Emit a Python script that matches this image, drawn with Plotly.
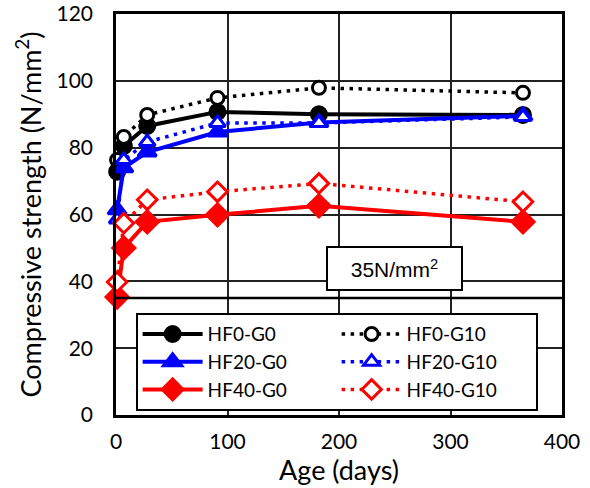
import plotly.graph_objects as go

# Curing age (days)
age = [1, 7, 28, 91, 182, 365]

# Compressive strength (N/mm2) per mix
hf0_g0 = [72.8, 80.5, 86.5, 90.7, 90.0, 89.8]
hf0_g10 = [76.3, 83.2, 89.8, 94.9, 97.9, 96.4]
hf20_g0 = [61.4, 74.0, 78.7, 84.7, 87.5, 89.5]
hf20_g10 = [58.5, 76.3, 81.7, 87.4, 87.4, 89.2]
hf40_g0 = [35.3, 50.0, 57.8, 59.9, 62.6, 57.8]
hf40_g10 = [39.8, 57.4, 64.4, 66.8, 69.3, 63.8]

design_strength = 35

DOTTED = "3.5px,5.5px"

# name, values, colour, dash, symbol, size, hollow
series = [
    ("HF0-G0", hf0_g0, "black", "solid", "circle", 15, False),
    ("HF0-G10", hf0_g10, "black", DOTTED, "circle", 13, True),
    ("HF20-G0", hf20_g0, "#0000ff", "solid", "triangle-up", 16, False),
    ("HF20-G10", hf20_g10, "#0000ff", DOTTED, "triangle-up", 14, True),
    ("HF40-G0", hf40_g0, "#ff0000", "solid", "diamond", 17, False),
    ("HF40-G10", hf40_g10, "#ff0000", DOTTED, "diamond", 15, True),
]

fig = go.Figure()
for name, vals, color, dash, symbol, size, hollow in series:
    fig.add_trace(go.Scatter(
        x=age, y=vals, name=name, mode="lines+markers", cliponaxis=False,
        line=dict(color=color, width=4 if dash == "solid" else 3.5, dash=dash),
        marker=dict(symbol=symbol, size=size,
                    color="white" if hollow else color,
                    line=dict(color=color, width=3)),
    ))

# Design strength reference line
fig.add_shape(type="line", xref="paper", x0=0, x1=1, yref="y",
              y0=design_strength, y1=design_strength,
              line=dict(color="black", width=2.5), layer="above")

fig.add_annotation(
    x=250, y=43.8, xref="x", yref="y",
    text=f"{design_strength}N/mm<sup>2</sup>", showarrow=False,
    font=dict(family="Liberation Sans, Arial", size=21, color="black"),
    bgcolor="white", bordercolor="black", borderwidth=2,
    width=131, height=39,
)

FAMILY = "Lato, Calibri, sans-serif"
tick_font = dict(family=FAMILY, size=21, color="black")
title_font = dict(family=FAMILY, size=27, color="black")

fig.update_layout(
    width=590, height=488,
    margin=dict(l=116, r=28, t=14, b=73),
    paper_bgcolor="white", plot_bgcolor="white",
    font=dict(family=FAMILY, color="black"),
    showlegend=True,
    legend=dict(
        orientation="h", x=0.044, y=0.254, xanchor="left", yanchor="top",
        bgcolor="white", bordercolor="black", borderwidth=2,
        entrywidth=124, entrywidthmode="pixels",
        font=dict(family=FAMILY, size=19, color="black"),
        itemwidth=60,
    ),
    xaxis=dict(
        range=[0, 400], dtick=100, tick0=0,
        showgrid=True, gridcolor="#222", gridwidth=2,
        showline=True, linecolor="black", linewidth=2.5, mirror=True,
        zeroline=False, ticks="", tickfont=tick_font, ticklabelstandoff=6,
        automargin=False,
        title=dict(text="Age (days)", font=title_font, standoff=2),
    ),
    yaxis=dict(
        range=[0, 120], dtick=20, tick0=0,
        showgrid=True, gridcolor="#222", gridwidth=2,
        showline=True, linecolor="black", linewidth=2.5, mirror=True,
        zeroline=False, ticks="", tickfont=tick_font, ticklabelstandoff=16,
        automargin=False,
        title=dict(text="Compressive strength (N/mm<sup>2</sup>)",
                   font=title_font, standoff=8),
    ),
)

fig.write_html("out.html")
